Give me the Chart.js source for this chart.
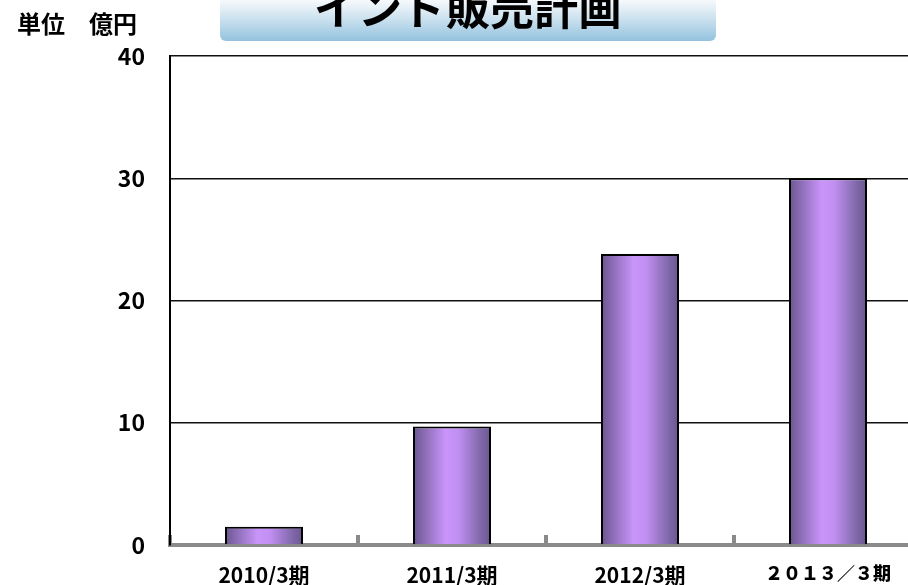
<!DOCTYPE html>
<html lang="ja">
<head>
<meta charset="utf-8">
<script src="https://cdn.jsdelivr.net/npm/chart.js@4.4.1/dist/chart.umd.min.js"></script>
<style>
  html, body { margin: 0; padding: 0; background: #fff; overflow: hidden; }
  #wrap { position: relative; width: 908px; height: 585px; overflow: hidden; }
  #chart { position: absolute; left: 0; top: 0; }
  .jp { font-family: "Noto Sans CJK JP", "Noto Sans", sans-serif; font-weight: bold; color: #000; }
  #titleBox {
    position: absolute; left: 220px; top: -12px; width: 496px; height: 53px;
    border-radius: 6px;
    background: linear-gradient(to bottom, #ffffff 0%, #f4f8fb 25%, #c9e0ee 60%, #93c2de 100%);
    z-index: 2;
  }
  #title {
    position: absolute; left: 220px; top: -16px; width: 496px; text-align: center;
    font-size: 44px; line-height: 44px; z-index: 3; white-space: nowrap;
  }
  #unit {
    position: absolute; left: 17px; top: 8px; font-size: 24px; line-height: 29px;
    z-index: 3; white-space: nowrap;
  }
</style>
</head>
<body>
<div id="wrap">
  <canvas id="chart" width="930" height="585"></canvas>
  <div id="titleBox"></div>
  <div id="title" class="jp">インド販売計画</div>
  <div id="unit" class="jp">単位　億円</div>
</div>
<script>
// Fiscal periods and planned sales (億円)
const categories = ['2010/3期', '2011/3期', '2012/3期', '２０１３／３期'];
const sales = [1.5, 9.7, 23.8, 30];
const yTicks = [0, 10, 20, 30, 40];

const FONT = '"Noto Sans CJK JP", "Noto Sans", sans-serif';
const BAR_PCT = 0.415;

// Horizontal cylinder-like shading for each bar
function barFill(context) {
  const chart = context.chart;
  const xs = chart.scales.x;
  if (!chart.chartArea || !xs) return '#b58ae8';
  const cx = xs.getPixelForValue(context.dataIndex);
  const half = (xs.width / categories.length) * BAR_PCT / 2;
  const g = chart.ctx.createLinearGradient(cx - half, 0, cx + half, 0);
  g.addColorStop(0, '#6a568f');
  g.addColorStop(0.42, '#c995fb');
  g.addColorStop(0.58, '#c18ff2');
  g.addColorStop(0.88, '#7d66a6');
  g.addColorStop(1, '#6a568f');
  return g;
}

new Chart(document.getElementById('chart'), {
  type: 'bar',
  data: {
    labels: categories,
    datasets: [{
      data: sales,
      backgroundColor: barFill,
      borderColor: '#000',
      borderWidth: 2,
      borderSkipped: 'bottom',
      categoryPercentage: 1,
      barPercentage: BAR_PCT
    }]
  },
  options: {
    responsive: false,
    animation: false,
    devicePixelRatio: 1,
    layout: { padding: { top: 56, right: 8, left: 0, bottom: 0 } },
    plugins: { legend: { display: false }, tooltip: { enabled: false }, title: { display: false } },
    scales: {
      x: {
        afterFit: (s) => { s.height = 40; },
        grid: {
          offset: true,
          drawOnChartArea: false,
          drawTicks: true,
          tickLength: -10,
          color: '#8a8a8a',
          lineWidth: 4
        },
        border: { display: true, color: '#8a8a8a', width: 4 },
        ticks: {
          padding: 27,
          color: '#000',
          // the full-width label is set a little smaller so it keeps its width
          font: (c) => ({ family: FONT, size: c.index === 3 ? 18 : 21, weight: c.index === 3 ? 900 : 'bold' }),
          maxRotation: 0,
          autoSkip: false
        }
      },
      y: {
        min: 0,
        max: 40,
        afterFit: (s) => { s.width = 170; },
        afterBuildTicks: (s) => { s.ticks = yTicks.map(v => ({ value: v })); },
        grid: { color: '#111', lineWidth: 1.5, drawTicks: false },
        border: { display: true, color: '#000', width: 2 },
        ticks: {
          padding: 25,
          color: '#000',
          font: { family: FONT, size: 23, weight: 'bold' }
        }
      }
    }
  }
});
</script>
</body>
</html>
